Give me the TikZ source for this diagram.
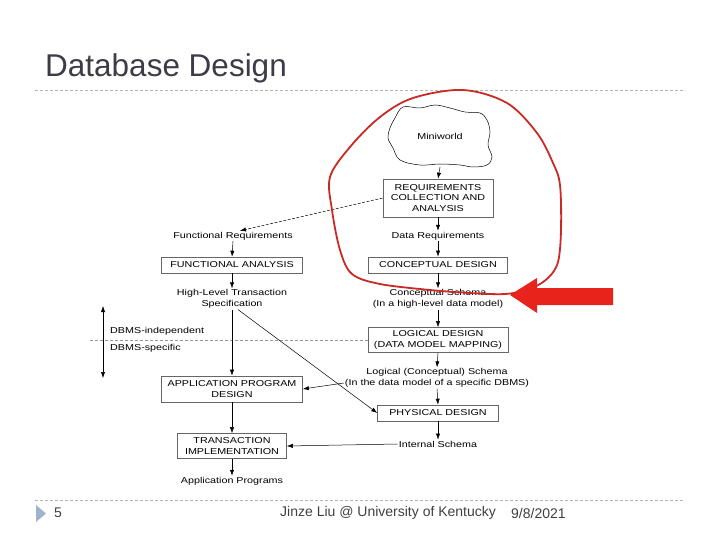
\documentclass[tikz,border=0pt]{standalone}
\usepackage{fontspec}
\setmainfont{Liberation Sans}
\newfontfamily\dfontfamily[FakeStretch=1.25]{Liberation Sans}
\usetikzlibrary{positioning, arrows.meta}
\usepackage{xcolor}

\definecolor{titlegray}{HTML}{3C3C46}
\definecolor{rulegray}{HTML}{B4B4B4}
\definecolor{bulletblue}{HTML}{9FB3CC}
\definecolor{markred}{HTML}{C92A24}
\definecolor{arrowred}{HTML}{E8231B}

\newcommand{\dfont}{\dfontfamily\fontsize{8.6}{10.8}\selectfont}

\begin{document}
\begin{tikzpicture}[
        x=1pt, y=-1pt,
        box/.style={
            rectangle, draw=black!60, line width=0.6pt, fill=white,
            align=center, inner sep=1pt, font=\dfont
        },
        lbl/.style={align=center, inner sep=1pt, font=\dfont},
        line/.style={draw, line width=0.5pt, -{Latex[length=6pt,width=4.2pt]}},
        rule/.style={draw=rulegray, line width=0.8pt, dash pattern=on 3pt off 2pt},
        sep/.style={draw=black!40, line width=0.5pt, dash pattern=on 3pt off 2pt}
    ]
    \useasboundingbox (0,0) rectangle (720,540);

    % slide frame
    \node[anchor=base west, inner sep=0, text=titlegray, font=\fontsize{31.5}{36}\selectfont] (title) at (45,77) {Database Design};
    \draw[rule] (35,90) -- (685,90);
    \draw[rule] (35,500) -- (685,500);
    \fill[bulletblue] (36,505) -- (46,513.5) -- (36,522) -- cycle;
    \node[anchor=west, inner sep=0, text=black!75, font=\fontsize{14}{16}\selectfont] (pagenum) at (54,513) {5};
    \node[anchor=west, inner sep=0, text=black!75, font=\fontsize{14}{16}\selectfont] (footer) at (280,513) {Jinze Liu @ University of Kentucky};
    \node[anchor=west, inner sep=0, text=black!75, font=\fontsize{14}{16}\selectfont] (date) at (511,513) {9/8/2021};

    % miniworld blob
    \node[lbl, minimum width=104pt, minimum height=62pt] (miniworld) at (440,136) {Miniworld};
    \draw[line width=0.5pt] plot[smooth cycle, tension=0.6] coordinates {
        (403,107) (420,108) (435,105) (450,108) (465,112) (480,113) (487,120)
        (490,132) (488,145) (492,157) (487,165) (473,167) (460,165) (440,164)
        (420,165) (400,160) (393,148) (388,138) (390,128) (395,118)};

    % right column
    \node[box, minimum width=110pt, minimum height=38pt] (req) at (438,198) {REQUIREMENTS\\COLLECTION AND\\ANALYSIS};
    \node[lbl] (datareq) at (438,236) {Data Requirements};
    \node[box, minimum width=139pt, minimum height=16pt] (concept) at (438,265) {CONCEPTUAL DESIGN};
    \node[lbl] (cschema) at (438,299) {Conceptual Schema\\(In a high-level data model)};
    \node[box, minimum width=140pt, minimum height=25pt] (logical) at (438,340) {LOGICAL DESIGN\\(DATA MODEL MAPPING)};
    \node[lbl] (lschema) at (437,378) {Logical (Conceptual) Schema\\(In the data model of a specific DBMS)};
    \node[box, minimum width=121pt, minimum height=16pt] (physical) at (438,413) {PHYSICAL DESIGN};
    \node[lbl] (intschema) at (438,444) {Internal Schema};

    % left column
    \node[lbl] (funcreq) at (233,236) {Functional Requirements};
    \node[box, minimum width=141pt, minimum height=16pt] (funcanal) at (232,265) {FUNCTIONAL ANALYSIS};
    \node[lbl] (hlts) at (232,299) {High-Level Transaction\\Specification};
    \node[box, minimum width=141pt, minimum height=26pt] (appdesign) at (232,389) {APPLICATION PROGRAM\\DESIGN};
    \node[box, minimum width=109pt, minimum height=25pt] (transimpl) at (232,446) {TRANSACTION\\IMPLEMENTATION};
    \node[lbl] (appprog) at (232,481) {Application Programs};

    % DBMS split
    \coordinate (splitleft) at (90,340);
    \coordinate (indtop) at (103,306);
    \coordinate (specbot) at (103,378);
    \node[lbl, anchor=west] (dbmsind) at (109,331) {DBMS-independent};
    \node[lbl, anchor=west] (dbmsspec) at (109,348) {DBMS-specific};
    \draw[sep] (splitleft) -- (logical.west);
    \draw[line, {Latex[length=6pt,width=4.2pt]}-{Latex[length=6pt,width=4.2pt]}] (indtop) -- (specbot);

    % flow
    \draw[line] (miniworld.south) -- (req.north);
    \draw[line] (req.south) -- (datareq.north);
    \draw[line] (datareq.south) -- (concept.north);
    \draw[line] (concept.south) -- (cschema.north);
    \draw[line] (cschema.south) -- (logical.north);
    \draw[line] (logical.south) -- (lschema.north);
    \draw[line] (lschema.south) -- (physical.north);
    \draw[line] (physical.south) -- (intschema.north);
    \draw[line] (intschema.west) -- (transimpl.east);
    \draw[line, dash pattern=on 3pt off 1.5pt] (req.west) -- ([xshift=7pt]funcreq.north);
    \draw[line] (funcreq.south) -- (funcanal.north);
    \draw[line] (funcanal.south) -- (hlts.north);
    \draw[line] (hlts.south) -- (appdesign.north);
    \draw[line] ([xshift=6pt]hlts.south) -- (physical.west);
    \draw[line] ([yshift=-5pt]lschema.west) -- (appdesign.east);
    \draw[line] (appdesign.south) -- (transimpl.north);
    \draw[line] (transimpl.south) -- (appprog.north);

    % red annotation
    \draw[markred, line width=1.8pt] plot[smooth cycle, tension=0.55] coordinates {
        (332,210) (330,177) (350,147) (380,117) (413,98) (463,90) (507,103)
        (537,133) (553,163) (560,185) (561,230) (558,262) (548,278) (530,289)
        (505,294) (470,293) (430,290) (380,284) (352,274) (340,250)};
    \fill[arrowred] (510,295) -- (537,278) -- (537,288) -- (613,288)
        -- (613,305) -- (537,305) -- (537,313) -- cycle;
\end{tikzpicture}
\end{document}
